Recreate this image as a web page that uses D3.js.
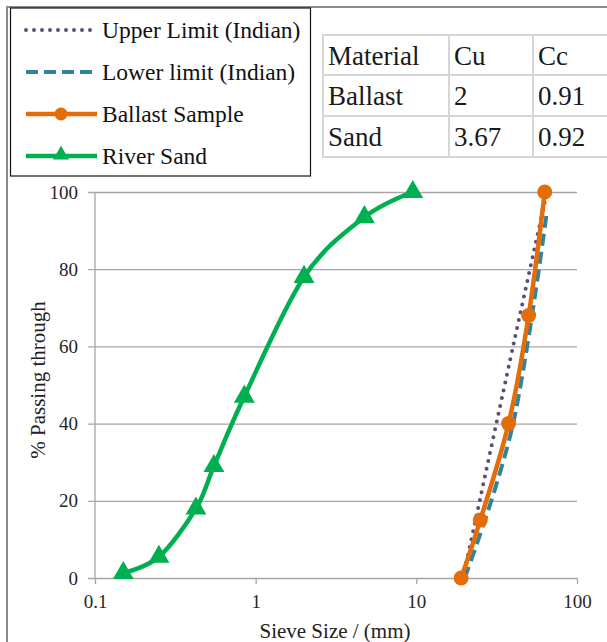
<!DOCTYPE html>
<html>
<head>
<meta charset="utf-8">
<script src="https://cdn.jsdelivr.net/npm/d3@7"></script>
<style>
  body { margin: 0; background: #fff; }
  svg { display: block; }
  text { font-family: 'Liberation Serif', 'Times New Roman', serif; }
</style>
</head>
<body>
<script>
// sieve sizes (mm) and % passing
var sandSize = [0.15, 0.25, 0.425, 0.55, 0.85, 2, 4.75, 9.5];
var sandPass = [1.3, 5.5, 18, 29, 47, 78, 93.5, 100];
var ballastSize = [19, 25, 37.5, 50, 63];
var ballastPass = [0, 15, 40, 68, 100];
var upperSize = [20, 40, 65];
var upperPass = [2, 60, 100];
var lowerSize = [20, 40, 65];
var lowerPass = [0, 40, 95];

var xTicks = [0.1, 1, 10, 100];
var yTicks = [0, 20, 40, 60, 80, 100];

var legendNames = ["Upper Limit (Indian)", "Lower limit (Indian)", "Ballast Sample", "River Sand"];
var tableHead = ["Material", "Cu", "Cc"];
var tableRows = [["Ballast", "2", "0.91"], ["Sand", "3.67", "0.92"]];

var W = 607, H = 642;
var SERIF = "Liberation Serif";
var svg = d3.select("body").append("svg").attr("width", W).attr("height", H)
  .attr("font-family", SERIF);

// outer frame
svg.append("path").attr("d", "M7,650 L7,7 L620,7")
  .attr("fill", "none").attr("stroke", "#8c8c8c").attr("stroke-width", 2);

var x = d3.scaleLog().domain([0.1, 100]).range([95, 577]);
var y = d3.scaleLinear().domain([0, 100]).range([578, 192]);

// gridlines + y labels
var yAxis = svg.append("g").attr("transform", "translate(88,0)")
  .call(d3.axisLeft(y).tickValues(yTicks).tickSizeInner(-(577 - 88)).tickSizeOuter(0).tickPadding(10));
yAxis.attr("font-family", SERIF);
yAxis.select(".domain").remove();
yAxis.selectAll("line").attr("stroke", "#a6a6a6").attr("stroke-width", 1.3);
yAxis.selectAll("text").attr("font-size", 19).attr("fill", "#262626");

// x ticks + labels
var xAxis = svg.append("g").attr("transform", "translate(0,578)")
  .call(d3.axisBottom(x).tickValues(xTicks).tickFormat(function(d) { return d; }).tickSizeInner(6).tickSizeOuter(0).tickPadding(11));
xAxis.attr("font-family", SERIF);
xAxis.select(".domain").remove();
xAxis.selectAll("line").attr("stroke", "#a6a6a6").attr("stroke-width", 1.3);
xAxis.selectAll("text").attr("font-size", 19).attr("fill", "#262626");

// vertical axis line
svg.append("line").attr("x1", x(0.1)).attr("x2", x(0.1)).attr("y1", y(100)).attr("y2", y(0))
  .attr("stroke", "#a6a6a6").attr("stroke-width", 1.3);

// axis titles
svg.append("text").attr("x", 335).attr("y", 638).attr("text-anchor", "middle")
  .attr("font-size", 21).attr("fill", "#222").text("Sieve Size / (mm)");
svg.append("text").attr("transform", "translate(45,380) rotate(-90)").attr("text-anchor", "middle")
  .attr("font-size", 21).attr("fill", "#222").text("% Passing through");

var smooth = d3.line().curve(d3.curveCardinal.tension(0))
  .x(function(d) { return x(d[0]); }).y(function(d) { return y(d[1]); });

function pairs(a, b) { return a.map(function(v, i) { return [v, b[i]]; }); }

var upper = pairs(upperSize, upperPass);
var lower = pairs(lowerSize, lowerPass);
var ballast = pairs(ballastSize, ballastPass);
var sand = pairs(sandSize, sandPass);

var GREEN = "#00b050", ORANGE = "#e46c0a", PURPLE = "#604a7b", TEAL = "#31849b";

svg.append("path").datum(lower).attr("d", smooth).attr("fill", "none")
  .attr("stroke", TEAL).attr("stroke-width", 4).attr("stroke-dasharray", "12,6");
svg.append("path").datum(upper).attr("d", smooth).attr("fill", "none")
  .attr("stroke", PURPLE).attr("stroke-width", 4).attr("stroke-linecap", "round").attr("stroke-dasharray", "0,8");
svg.append("path").datum(ballast).attr("d", smooth).attr("fill", "none")
  .attr("stroke", ORANGE).attr("stroke-width", 4.5);
svg.selectAll(".bmark").data(ballast).enter().append("circle")
  .attr("cx", function(d) { return x(d[0]); }).attr("cy", function(d) { return y(d[1]); })
  .attr("r", 7.5).attr("fill", ORANGE);

svg.append("path").datum(sand).attr("d", smooth).attr("fill", "none")
  .attr("stroke", GREEN).attr("stroke-width", 4.5);
var tri = d3.symbol().type(d3.symbolTriangle).size(190);
svg.selectAll(".smark").data(sand).enter().append("path")
  .attr("d", tri)
  .attr("transform", function(d) { return "translate(" + x(d[0]) + "," + y(d[1]) + ")"; })
  .attr("fill", GREEN);

// legend
var lg = svg.append("g");
lg.append("rect").attr("x", 10.5).attr("y", 8).attr("width", 300).attr("height", 168)
  .attr("fill", "#fff").attr("stroke", "#111").attr("stroke-width", 1.2);
var lgY = [30, 72, 114, 156];
var styles = [
  { c: PURPLE, w: 4, dash: "0,8", cap: "round" },
  { c: TEAL, w: 4, dash: "12,6", cap: "butt" },
  { c: ORANGE, w: 4.5, dash: null, cap: "butt" },
  { c: GREEN, w: 4.5, dash: null, cap: "butt" }
];
legendNames.forEach(function(name, i) {
  var row = lg.append("g");
  row.append("line").attr("x1", 26).attr("x2", 97).attr("y1", lgY[i]).attr("y2", lgY[i])
    .attr("stroke", styles[i].c).attr("stroke-width", styles[i].w)
    .attr("stroke-dasharray", styles[i].dash).attr("stroke-linecap", styles[i].cap);
  if (i === 2) row.append("circle").attr("cx", 61).attr("cy", lgY[i]).attr("r", 6.5).attr("fill", ORANGE);
  if (i === 3) row.append("path").attr("d", d3.symbol().type(d3.symbolTriangle).size(110))
    .attr("transform", "translate(61," + (lgY[i] - 1) + ")").attr("fill", GREEN);
  row.append("text").attr("x", 102).attr("y", lgY[i] + 8).attr("font-size", 23.5).attr("fill", "#111").text(name);
});

// Cu / Cc table
var colX = [323, 449, 533, 660];
var rowY = [35, 75, 116, 157];
var tg = svg.append("g");
var cells = [tableHead].concat(tableRows);
cells.forEach(function(r, ri) {
  r.forEach(function(v, ci) {
    tg.append("rect").attr("x", colX[ci]).attr("y", rowY[ri])
      .attr("width", colX[ci + 1] - colX[ci]).attr("height", rowY[ri + 1] - rowY[ri])
      .attr("fill", "#fff").attr("stroke", "#d6d6d6").attr("stroke-width", 2);
    tg.append("text").attr("x", colX[ci] + 5).attr("y", rowY[ri] + 30)
      .attr("font-size", 27).attr("fill", "#1a1a1a").text(v);
  });
});
</script>
</body>
</html>
